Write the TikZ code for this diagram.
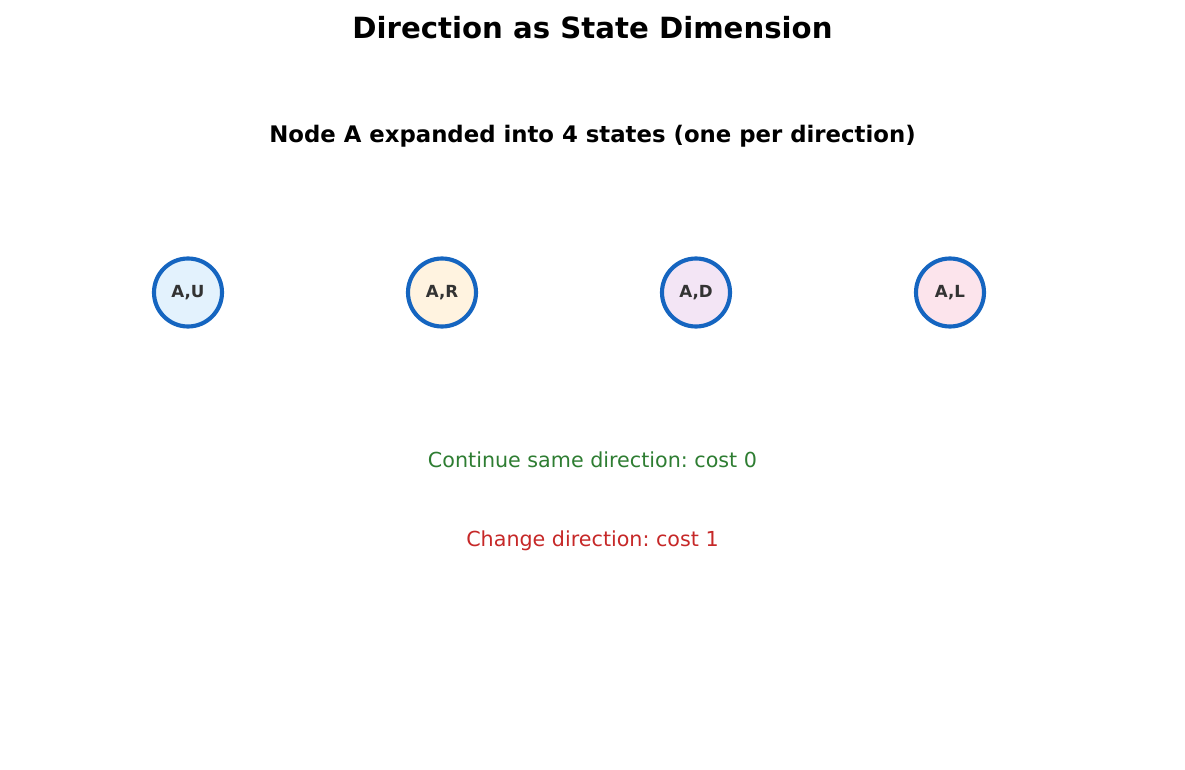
\documentclass[tikz,border=0pt]{standalone}
\usepackage{fontspec}
\setmainfont{DejaVu Sans}
\frenchspacing
\definecolor{ringblue}{HTML}{1565C0}
\definecolor{fillU}{HTML}{E3F2FD}
\definecolor{fillR}{HTML}{FFF3E0}
\definecolor{fillD}{HTML}{F3E5F5}
\definecolor{fillL}{HTML}{FCE4EC}
\definecolor{labgray}{HTML}{333333}
\definecolor{okgreen}{HTML}{2E7D32}
\definecolor{badred}{HTML}{C62828}
\tikzset{
  statenode/.style={circle, draw=ringblue, line width=3.1pt, minimum size=68*0.75pt, inner sep=0pt,
    text=labgray, font=\fontsize{12.5}{14}\selectfont\bfseries},
  titletext/.style={font=\fontsize{21.9}{25}\selectfont\bfseries, text=black},
  subtext/.style={font=\fontsize{17.1}{20}\selectfont\bfseries, text=black},
  notetext/.style={font=\fontsize{15.5}{18}\selectfont}
}
\begin{document}
\begin{tikzpicture}[x=0.75pt, y=-0.75pt]
\useasboundingbox (0,0) rectangle (1185,770);
\node[titletext] (title) at (592.5,28) {Direction as State Dimension};
\node[subtext] (sub) at (592.5,136) {Node A expanded into 4 states (one per direction)};
\node[statenode, fill=fillU] (AU) at (188,292.5) {A,U};
\node[statenode, fill=fillR] (AR) at (442,292.5) {A,R};
\node[statenode, fill=fillD] (AD) at (696,292.5) {A,D};
\node[statenode, fill=fillL] (AL) at (950,292.5) {A,L};
\node[notetext, text=okgreen] (cont) at (592.5,459.5) {Continue same direction: cost 0};
\node[notetext, text=badred] (chg) at (592.5,540.5) {Change direction: cost 1};
\end{tikzpicture}
\end{document}
